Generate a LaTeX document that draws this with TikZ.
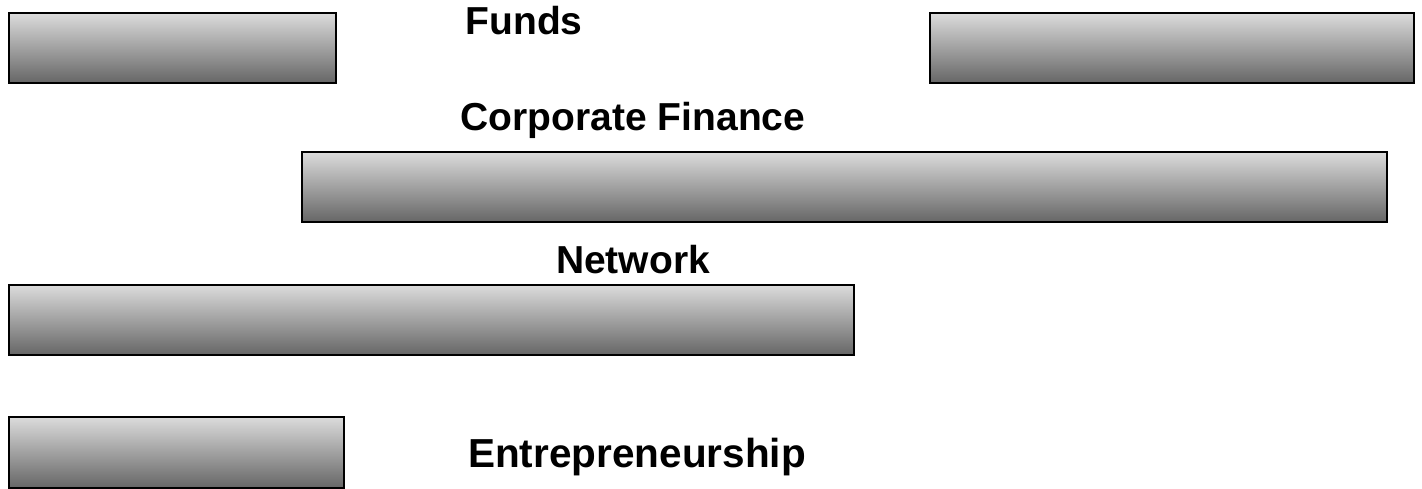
\documentclass[tikz,border=0pt]{standalone}
\usepackage{fontspec}
\setmainfont{Liberation Sans}
\usetikzlibrary{positioning}
\tikzset{
  bar/.style={
    rectangle,
    draw=black, line width=2pt,
    top color=black!14,
    bottom color=black!60,
    inner sep=0pt,
    minimum height=70pt,
    anchor=north west},
  caption/.style={
    font=\fontsize{39}{41}\selectfont\bfseries,
    inner sep=0pt,
    anchor=base},
}
\begin{document}
\begin{tikzpicture}[x=1pt, y=-1pt]
    \useasboundingbox (0,0) rectangle (1422,489);

    % bars
    \node[bar, minimum width=327pt] (fundsleft) at (8,12) {};
    \node[bar, minimum width=484pt] (fundsright) at (929,12) {};
    \node[bar, minimum width=1085pt] (corpfin) at (301,151) {};
    \node[bar, minimum width=845pt] (network) at (8,284) {};
    \node[bar, minimum width=335pt, minimum height=71pt] (entre) at (8,416) {};

    % labels
    \node[caption] (fundslabel) at (524,35) {Funds};
    \node[caption] (corpfinlabel) at (633,131) {Corporate Finance};
    \node[caption] (networklabel) at (633,273) {Network};
    \node[caption, font=\fontsize{40.5}{42}\selectfont\bfseries] (entrelabel) at (637,467) {Entrepreneurship};
\end{tikzpicture}
\end{document}
